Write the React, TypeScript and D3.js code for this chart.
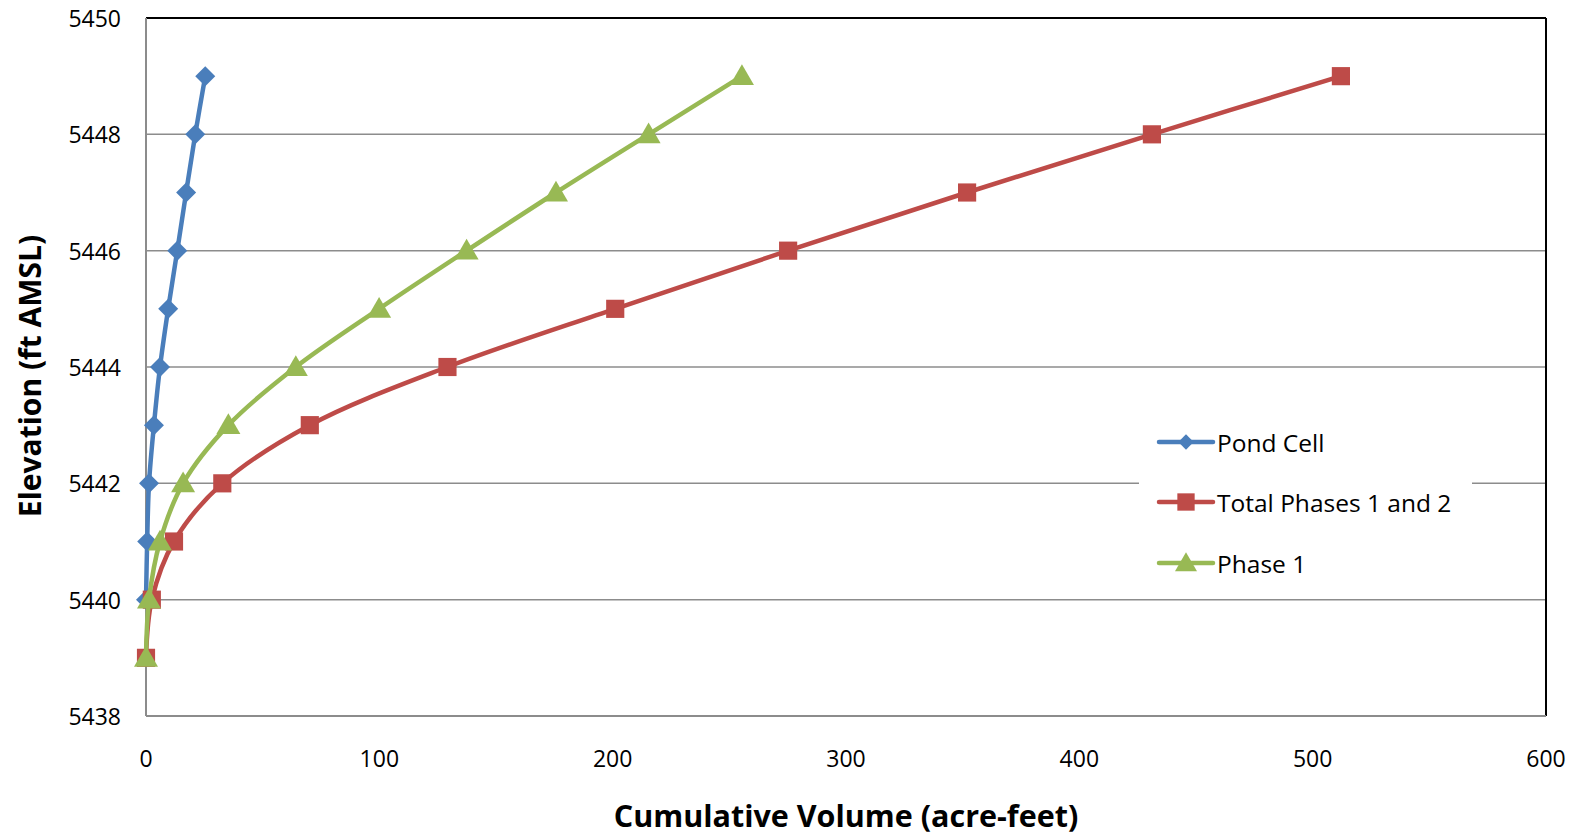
import { useMemo } from "react";
import * as d3 from "d3";

// elevations (ft AMSL) for each series
const pondElev = [5440, 5441, 5442, 5443, 5444, 5445, 5446, 5447, 5448, 5449];
const pondVol = [0, 0.5, 1.3, 3.4, 6, 9.5, 13.4, 17.2, 21.1, 25.4];

const totalElev = [5439, 5440, 5441, 5442, 5443, 5444, 5445, 5446, 5447, 5448, 5449];
const totalVol = [0, 2.5, 12, 32.7, 70.2, 129.2, 201.1, 275.2, 351.9, 431.1, 512.1];

const phase1Elev = [5439, 5440, 5441, 5442, 5443, 5444, 5445, 5446, 5447, 5448, 5449];
const phase1Vol = [0, 1.3, 6, 15.9, 35.3, 64.2, 99.9, 137.4, 175.7, 215.4, 255.4];

const xTicks = [0, 100, 200, 300, 400, 500, 600];
const yTicks = [5438, 5440, 5442, 5444, 5446, 5448, 5450];

const seriesNames = ["Pond Cell", "Total Phases 1 and 2", "Phase 1"];
const seriesColors = ["#4a7ebb", "#be4b48", "#98b954"];
const seriesShapes = [d3.symbolDiamond2, d3.symbolSquare, d3.symbolTriangle];

const W = 1575;
const H = 835;
const FONT = "'Open Sans', 'Liberation Sans', sans-serif";

export default function App() {
  const margin = { left: 146, right: W - 1546, top: 18, bottom: H - 716 };

  const x = useMemo(
    () => d3.scaleLinear().domain([0, 600]).range([margin.left, W - margin.right]),
    []
  );
  const y = useMemo(
    () => d3.scaleLinear().domain([5438, 5450]).range([H - margin.bottom, margin.top]),
    []
  );

  const series = [
    { vol: pondVol, elev: pondElev },
    { vol: totalVol, elev: totalElev },
    { vol: phase1Vol, elev: phase1Elev },
  ];

  const line = d3
    .line<[number, number]>()
    .x((d) => x(d[0]))
    .y((d) => y(d[1]))
    .curve(d3.curveCatmullRom.alpha(0.5));

  const symbolSizes = [255, 330, 250];
  const legendSizes = [150, 300, 210];
  const symbolPath = (i: number, sizes = symbolSizes) =>
    d3.symbol().type(seriesShapes[i]).size(sizes[i])() || "";

  const legendX = 1159;
  const legendRows = [442, 502, 563];

  return (
    <>
      <style>{"html,body{margin:0;padding:0;overflow:hidden}"}</style>
      <svg
        width={W}
        height={H}
        style={{ display: "block", background: "#fff" }}
        fontFamily={FONT}
      >
        {/* gridlines */}
        {yTicks.slice(1, -1).map((t) => (
          <line key={t} x1={x(0)} x2={x(600)} y1={y(t)} y2={y(t)} stroke="#8c8c8c" strokeWidth={1.5} />
        ))}

        {/* legend backing */}
        <rect x={1139} y={414} width={333} height={178} fill="#fff" />

        {/* plot border */}
        <line x1={x(0)} x2={x(600)} y1={y(5450)} y2={y(5450)} stroke="#000" strokeWidth={2} />
        <line x1={x(600)} x2={x(600)} y1={y(5450)} y2={y(5438)} stroke="#000" strokeWidth={2} />
        <line x1={x(0)} x2={x(600)} y1={y(5438)} y2={y(5438)} stroke="#8c8c8c" strokeWidth={2} />
        <line x1={x(0)} x2={x(0)} y1={y(5450)} y2={y(5438)} stroke="#8c8c8c" strokeWidth={2} />

        {/* tick labels */}
        {yTicks.map((t) => (
          <text key={t} x={x(0) - 25} y={y(t)} textAnchor="end" dominantBaseline="central" fontSize={23} fill="#000">
            {t}
          </text>
        ))}
        {xTicks.map((t) => (
          <text key={t} x={x(t)} y={y(5438) + 42} textAnchor="middle" dominantBaseline="central" fontSize={23} fill="#000">
            {t}
          </text>
        ))}

        {/* axis titles */}
        <text x={(x(0) + x(600)) / 2} y={815} textAnchor="middle" dominantBaseline="central" fontSize={30.5} fontWeight="bold">
          Cumulative Volume (acre-feet)
        </text>
        <text
          transform={`translate(29, 376) rotate(-90)`}
          textAnchor="middle"
          dominantBaseline="central"
          fontSize={30}
          fontWeight="bold"
        >
          Elevation (ft AMSL)
        </text>

        {/* series */}
        {series.map((s, i) => {
          const pts = s.vol.map((v, j) => [v, s.elev[j]] as [number, number]);
          return (
            <g key={i}>
              <path d={line(pts) || ""} fill="none" stroke={seriesColors[i]} strokeWidth={4.5} strokeLinejoin="round" strokeLinecap="round" />
              {pts.map((p, j) => (
                <path
                  key={j}
                  d={symbolPath(i)}
                  transform={`translate(${x(p[0])}, ${y(p[1]) + (i === 2 ? 2 : 0)})`}
                  fill={seriesColors[i]}
                />
              ))}
            </g>
          );
        })}

        {/* legend */}
        {seriesNames.map((name, i) => (
          <g key={name} transform={`translate(${legendX}, ${legendRows[i]})`}>
            <line x1={0} x2={54} y1={0} y2={0} stroke={seriesColors[i]} strokeWidth={4.5} strokeLinecap="round" />
            <path d={symbolPath(i, legendSizes)} transform={`translate(27, ${i === 2 ? 2 : 0})`} fill={seriesColors[i]} />
            <text x={58} y={0} dominantBaseline="central" fontSize={24.5} fill="#000">
              {name}
            </text>
          </g>
        ))}
      </svg>
    </>
  );
}
